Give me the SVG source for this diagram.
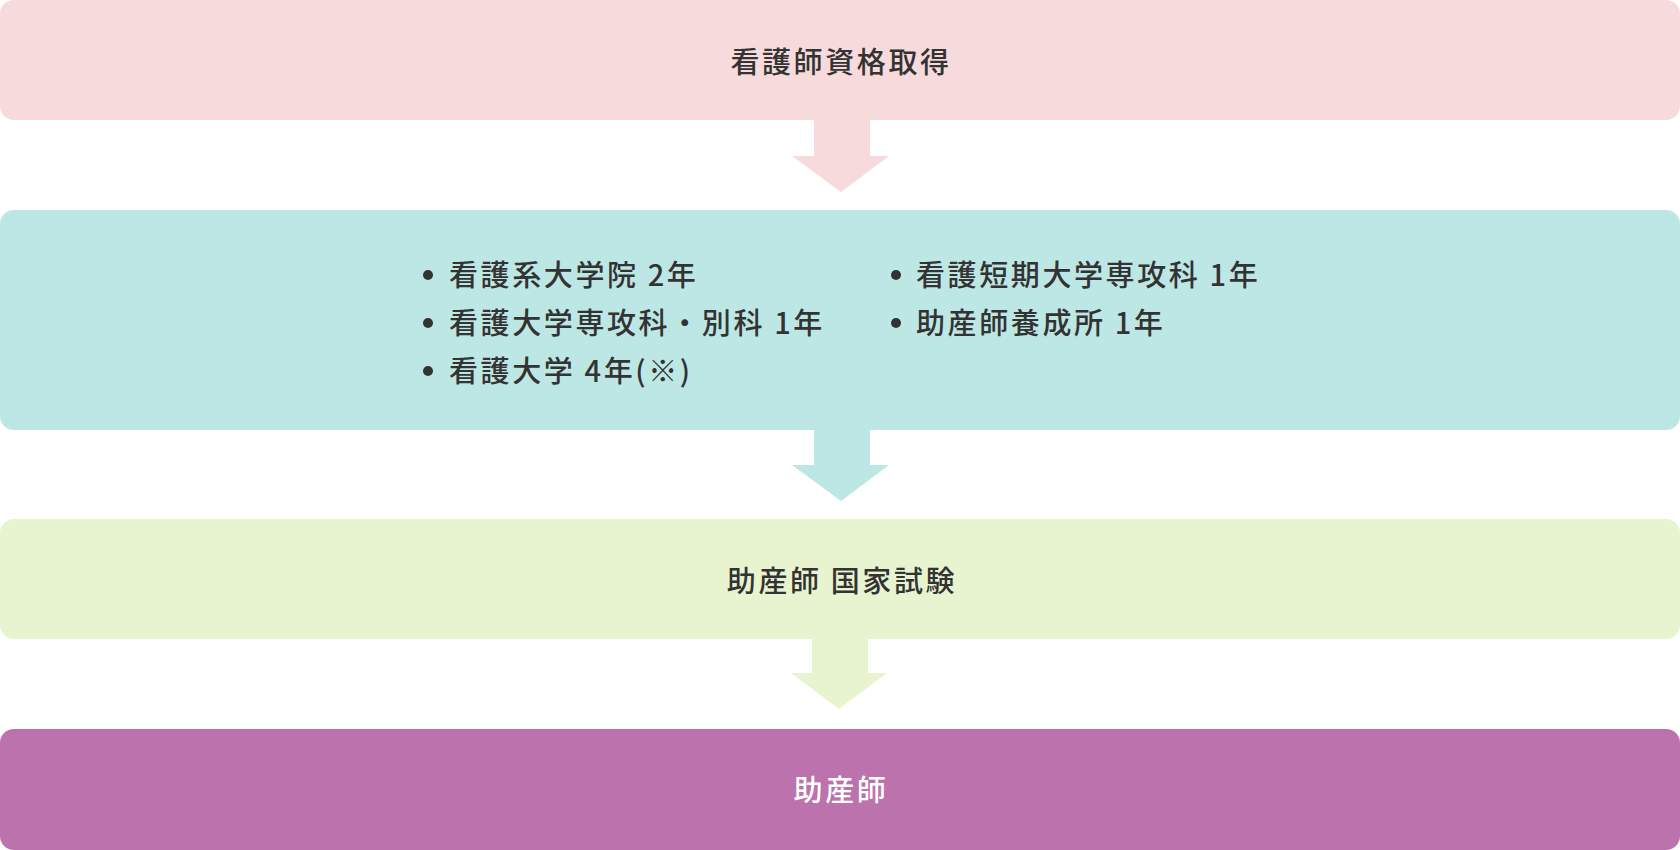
<svg xmlns="http://www.w3.org/2000/svg" width="1680" height="850" viewBox="0 0 1680 850">
<style>
.t{font-family:"Noto Sans CJK JP","Noto Sans",sans-serif;font-size:29px;font-weight:500;letter-spacing:2.6px;fill:#333333}
.c{text-anchor:middle}
.w{fill:#ffffff}
.b{fill:#333333}
</style>
<g id="connectors">
<polygon points="814,119 870,119 870,156 889,156 841,192 792,156 814,156" fill="#f7dadb"/>
<polygon points="814,429 870,429 870,465 889,465 841,501 792,465 814,465" fill="#bde7e5"/>
<polygon points="812,638 868,638 868,673 887,673 839,709 791,673 812,673" fill="#e8f4cf"/>
</g>
<g id="node1">
<rect x="0" y="0" width="1680" height="120" rx="14" fill="#f7dadb"/>
<text class="t c" x="841" y="73">看護師資格取得</text>
</g>
<g id="node2">
<rect x="0" y="210" width="1680" height="220" rx="14" fill="#bde7e5"/>
<circle class="b" cx="428" cy="275" r="5"/>
<circle class="b" cx="428" cy="323" r="5"/>
<circle class="b" cx="428" cy="371" r="5"/>
<circle class="b" cx="896" cy="275" r="5"/>
<circle class="b" cx="896" cy="323" r="5"/>
<text class="t" x="449" y="286">看護系大学院 2年</text>
<text class="t" x="449" y="334">看護大学専攻科・別科 1年</text>
<text class="t" x="449" y="382">看護大学 4年(※)</text>
<text class="t" x="916" y="286">看護短期大学専攻科 1年</text>
<text class="t" x="916" y="334">助産師養成所 1年</text>
</g>
<g id="node3">
<rect x="0" y="519" width="1680" height="120" rx="14" fill="#e8f4cf"/>
<text class="t c" x="842" y="592">助産師 国家試験</text>
</g>
<g id="node4">
<rect x="0" y="729" width="1680" height="121" rx="14" fill="#bc72ad"/>
<text class="t c w" x="841" y="801">助産師</text>
</g>
</svg>
